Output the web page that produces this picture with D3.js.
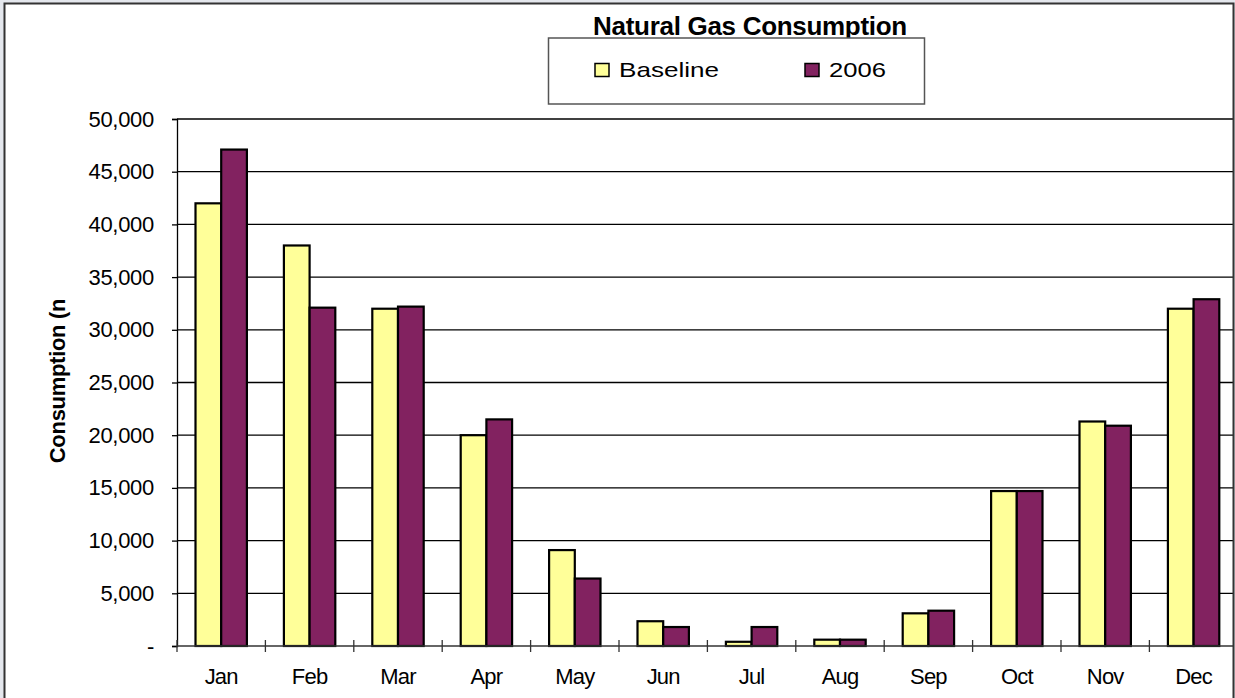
<!DOCTYPE html>
<html>
<head>
<meta charset="utf-8">
<script src="https://cdn.jsdelivr.net/npm/d3@7"></script>
<style>
  html, body { margin: 0; padding: 0; background: #e4e7ed; }
  svg { display: block; font-family: "Liberation Sans", Arial, sans-serif; }
</style>
</head>
<body>
<div id="chart"></div>
<script>
// data
var months = ["Jan", "Feb", "Mar", "Apr", "May", "Jun", "Jul", "Aug", "Sep", "Oct", "Nov", "Dec"];
var seriesNames = ["Baseline", "2006"];
var baseline = [42000, 38000, 32000, 20000, 9100, 2350, 400, 600, 3100, 14700, 21300, 32000];
var y2006 = [47100, 32100, 32200, 21500, 6400, 1800, 1800, 600, 3350, 14700, 20900, 32900];
var yTicks = [0, 5000, 10000, 15000, 20000, 25000, 30000, 35000, 40000, 45000, 50000];
var colors = ["#ffff99", "#822260"];

var W = 1235, H = 698;
var plotLeft = 177, plotTop = 119, plotBottom = 646;
var plotRight = plotLeft + 12 * 88.4; // runs past the frame, gets clipped

var svg = d3.select("#chart").append("svg")
    .attr("width", W)
    .attr("height", H);

// white page inside the frame
svg.append("rect")
    .attr("x", 4).attr("y", 3)
    .attr("width", 1230).attr("height", H)
    .attr("fill", "#fff");

svg.append("clipPath").attr("id", "frameClip")
  .append("rect")
    .attr("x", 4).attr("y", 3)
    .attr("width", 1229).attr("height", H);

var g = svg.append("g").attr("clip-path", "url(#frameClip)");

var x = d3.scaleBand()
    .domain(months)
    .range([plotLeft, plotRight])
    .paddingInner(0)
    .paddingOuter(0);

var x1 = d3.scaleBand()
    .domain(seriesNames)
    .range([0, x.bandwidth()])
    .paddingInner(0)
    .paddingOuter(0.72);

var y = d3.scaleLinear()
    .domain([0, 50000])
    .range([plotBottom, plotTop]);

// gridlines
g.selectAll(".grid")
    .data(yTicks.slice(1))
    .enter().append("line")
    .attr("class", "grid")
    .attr("x1", plotLeft).attr("x2", plotRight)
    .attr("y1", function(d){return y(d);})
    .attr("y2", function(d){return y(d);})
    .attr("stroke", "#000")
    .attr("stroke-width", 1.3);

// y axis
var yAxis = d3.axisLeft(y)
    .tickValues(yTicks)
    .tickSize(5)
    .tickPadding(17)
    .tickFormat(function(d){return d === 0 ? "-" : d3.format(",")(d);});

var ya = g.append("g")
    .attr("transform", "translate(" + plotLeft + ",0)")
    .call(yAxis);
ya.select(".domain").attr("stroke", "#000").attr("stroke-width", 1.3);
ya.selectAll(".tick line").attr("stroke", "#000").attr("stroke-width", 1.3);
ya.selectAll(".tick text")
    .attr("fill", "#000")
    .style("font-size", "22px")
    .style("letter-spacing", "-0.3px")
    .attr("dx", "-1");

// bars
var data = months.map(function(m, i){
    return {month: m, values: [
        {name: seriesNames[0], value: baseline[i]},
        {name: seriesNames[1], value: y2006[i]}
    ]};
});

var groups = g.selectAll(".month")
    .data(data)
    .enter().append("g")
    .attr("class", "month")
    .attr("transform", function(d){return "translate(" + x(d.month) + ",0)";});

groups.selectAll("rect")
    .data(function(d){return d.values;})
    .enter().append("rect")
    .attr("x", function(d){return x1(d.name);})
    .attr("width", x1.bandwidth())
    .attr("y", function(d){return y(d.value);})
    .attr("height", function(d){return plotBottom - y(d.value);})
    .attr("fill", function(d, i){return colors[i];})
    .attr("stroke", "#000")
    .attr("stroke-width", 2.2);

// x axis
g.append("line")
    .attr("x1", plotLeft).attr("x2", plotRight)
    .attr("y1", plotBottom).attr("y2", plotBottom)
    .attr("stroke", "#333")
    .attr("stroke-width", 1.3);

g.selectAll(".xtick")
    .data(d3.range(months.length + 1))
    .enter().append("line")
    .attr("class", "xtick")
    .attr("x1", function(i){return plotLeft + i * x.step();})
    .attr("x2", function(i){return plotLeft + i * x.step();})
    .attr("y1", plotBottom - 6).attr("y2", plotBottom + 6)
    .attr("stroke", "#333")
    .attr("stroke-width", 1.3);

g.selectAll(".xlabel")
    .data(months)
    .enter().append("text")
    .attr("class", "xlabel")
    .attr("x", function(d){return x(d) + x.bandwidth() / 2;})
    .attr("y", 684)
    .attr("text-anchor", "middle")
    .style("font-size", "22px")
    .style("letter-spacing", "-0.8px")
    .text(function(d){return d;});

// y axis title
svg.append("text")
    .attr("transform", "translate(65,381) rotate(-90)")
    .attr("text-anchor", "middle")
    .style("font-size", "22px")
    .style("font-weight", "bold")
    .style("letter-spacing", "-0.3px")
    .text("Consumption (n");

// title (legend box sits over its lower edge)
svg.append("text")
    .attr("x", 750)
    .attr("y", 35)
    .attr("text-anchor", "middle")
    .style("font-size", "26px")
    .style("font-weight", "bold")
    .style("letter-spacing", "-0.3px")
    .text("Natural  Gas Consumption");

// legend
var legend = svg.append("g");
legend.append("rect")
    .attr("x", 548.5).attr("y", 38)
    .attr("width", 376).attr("height", 66)
    .attr("fill", "#fff")
    .attr("stroke", "#555")
    .attr("stroke-width", 1.5);

var legX = [595, 805];
var legW = [100, 57];
seriesNames.forEach(function(name, i){
    legend.append("rect")
        .attr("x", legX[i]).attr("y", 63.5)
        .attr("width", 14).attr("height", 13)
        .attr("fill", colors[i])
        .attr("stroke", "#000")
        .attr("stroke-width", 1.5);
    legend.append("text")
        .attr("x", legX[i] + 24)
        .attr("y", 77)
        .attr("textLength", legW[i])
        .attr("lengthAdjust", "spacingAndGlyphs")
        .style("font-size", "21px")
        .text(name);
});

// outer frame
svg.append("path")
    .attr("d", "M4.5," + H + "V3.5H1233.5V" + H)
    .attr("fill", "none")
    .attr("stroke", "#333")
    .attr("stroke-width", 2);
</script>
</body>
</html>
